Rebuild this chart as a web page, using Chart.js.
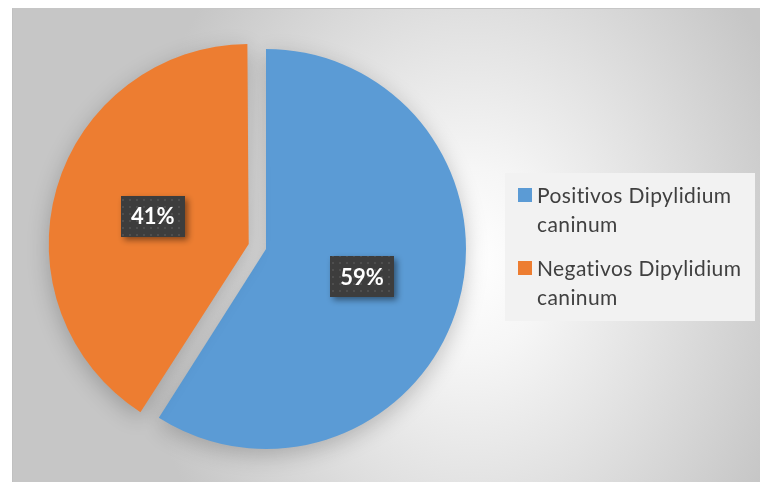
<!DOCTYPE html>
<html>
<head>
<meta charset="utf-8">
<script src="https://cdn.jsdelivr.net/npm/chart.js@4/dist/chart.umd.min.js"></script>
<style>
  html, body { margin: 0; padding: 0; background: #ffffff; width: 760px; height: 482px; overflow: hidden; }
  #frame {
    position: absolute; left: 12px; top: 8px; width: 760px; height: 480px;
    border-left: 1px solid #c0c0c0; border-top: 1px solid #c6c6c6;
    background: radial-gradient(340px 420px at 458px 252px, #ffffff 0%, #f6f6f6 22%, #e2e2e2 55%, #c6c6c6 100%);
  }
  #chart { position: absolute; left: 0; top: 0; }
  #legend {
    position: absolute; left: 505px; top: 173px; width: 250px; height: 148px;
    background: #f2f2f2;
    font-family: Lato, "DejaVu Sans", sans-serif; font-size: 21px; letter-spacing: 0.4px; color: #404040;
  }
  .item { position: absolute; left: 13px; width: 235px; }
  .sw { position: absolute; left: 0; width: 14px; height: 14px; }
  .tx { position: absolute; left: 19px; width: 220px; line-height: 28.5px; white-space: nowrap; }
</style>
</head>
<body>
<div id="frame"></div>
<canvas id="chart" width="760" height="482"></canvas>
<div id="legend"></div>
<script>
const categories = ["Positivos Dipylidium caninum", "Negativos Dipylidium caninum"];
const legendLines = [["Positivos Dipylidium", "caninum"], ["Negativos Dipylidium", "caninum"]];
const values = [59, 41];
const colors = ["#5B9BD5", "#ED7D31"];
const explode = [0, 72];

// HTML legend built from categories
const legend = document.getElementById('legend');
categories.forEach((c, i) => {
  const it = document.createElement('div');
  it.className = 'item';
  it.style.top = (8 + i * 73) + 'px';
  const sw = document.createElement('div');
  sw.className = 'sw';
  sw.style.background = colors[i];
  sw.style.top = '7px';
  const tx = document.createElement('div');
  tx.className = 'tx';
  tx.innerHTML = legendLines[i].join('<br>');
  it.appendChild(sw); it.appendChild(tx);
  legend.appendChild(it);
});

// dotted pattern for label boxes
const pc = document.createElement('canvas');
pc.width = 7; pc.height = 7;
const pctx = pc.getContext('2d');
pctx.fillStyle = '#3d3d3d'; pctx.fillRect(0, 0, 7, 7);
pctx.fillStyle = '#4e4e4e'; pctx.fillRect(3, 3, 2, 2);

const fixRadius = {
  id: 'fixRadius',
  afterDatasetUpdate(chart, args) {
    const meta = args.meta;
    meta.data.forEach((el, i) => {
      const off = explode[i] || 0;
      if (off) {
        const circ = el.endAngle - el.startAngle;
        const fix = 1 - Math.sin(Math.min(Math.PI, circ));
        el.outerRadius = meta.controller.outerRadius - (off / 4) * fix;
      }
    });
  }
};

const pieShadow = {
  id: 'pieShadow',
  beforeDatasetsDraw(chart) {
    const ctx = chart.ctx;
    ctx.save();
    ctx.shadowColor = 'rgba(0,0,0,0.22)';
    ctx.shadowBlur = 22;
    ctx.shadowOffsetX = 0;
    ctx.shadowOffsetY = 6;
  },
  afterDatasetsDraw(chart) {
    chart.ctx.restore();
    // data labels
    const ctx = chart.ctx;
    const meta = chart.getDatasetMeta(0);
    const total = values.reduce((a, b) => a + b, 0);
    const R = meta.controller.outerRadius;
    meta.data.forEach((el, i) => {
      const half = (el.startAngle + el.endAngle) / 2;
      const rr = R / 2 + (explode[i] || 0) / 4;
      const cx = el.x + Math.cos(half) * rr;
      const cy = el.y + Math.sin(half) * rr;
      const txt = Math.round(values[i] / total * 100) + '%';
      ctx.save();
      ctx.font = 'bold 22px Lato, "DejaVu Sans", sans-serif';
      const w = ctx.measureText(txt).width + 20;
      const h = 41;
      ctx.shadowColor = 'rgba(0,0,0,0.45)';
      ctx.shadowBlur = 6;
      ctx.shadowOffsetX = 3;
      ctx.shadowOffsetY = 3;
      ctx.fillStyle = ctx.createPattern(pc, 'repeat');
      ctx.fillRect(Math.round(cx - w / 2), Math.round(cy - h / 2), Math.round(w), h);
      ctx.shadowColor = 'transparent';
      ctx.fillStyle = '#ffffff';
      ctx.textAlign = 'center';
      ctx.textBaseline = 'middle';
      ctx.fillText(txt, cx, cy + 1);
      ctx.restore();
    });
  }
};

new Chart(document.getElementById('chart'), {
  type: 'pie',
  data: {
    labels: categories,
    datasets: [{
      data: values,
      backgroundColor: colors,
      borderWidth: 0,
      offset: explode
    }]
  },
  options: {
    responsive: false,
    animation: false,
    devicePixelRatio: 1,
    radius: 200,
    layout: { padding: { left: 58, right: 286, top: 41, bottom: 25 } },
    plugins: { legend: { display: false }, tooltip: { enabled: false } }
  },
  plugins: [fixRadius, pieShadow]
});
</script>
</body>
</html>
